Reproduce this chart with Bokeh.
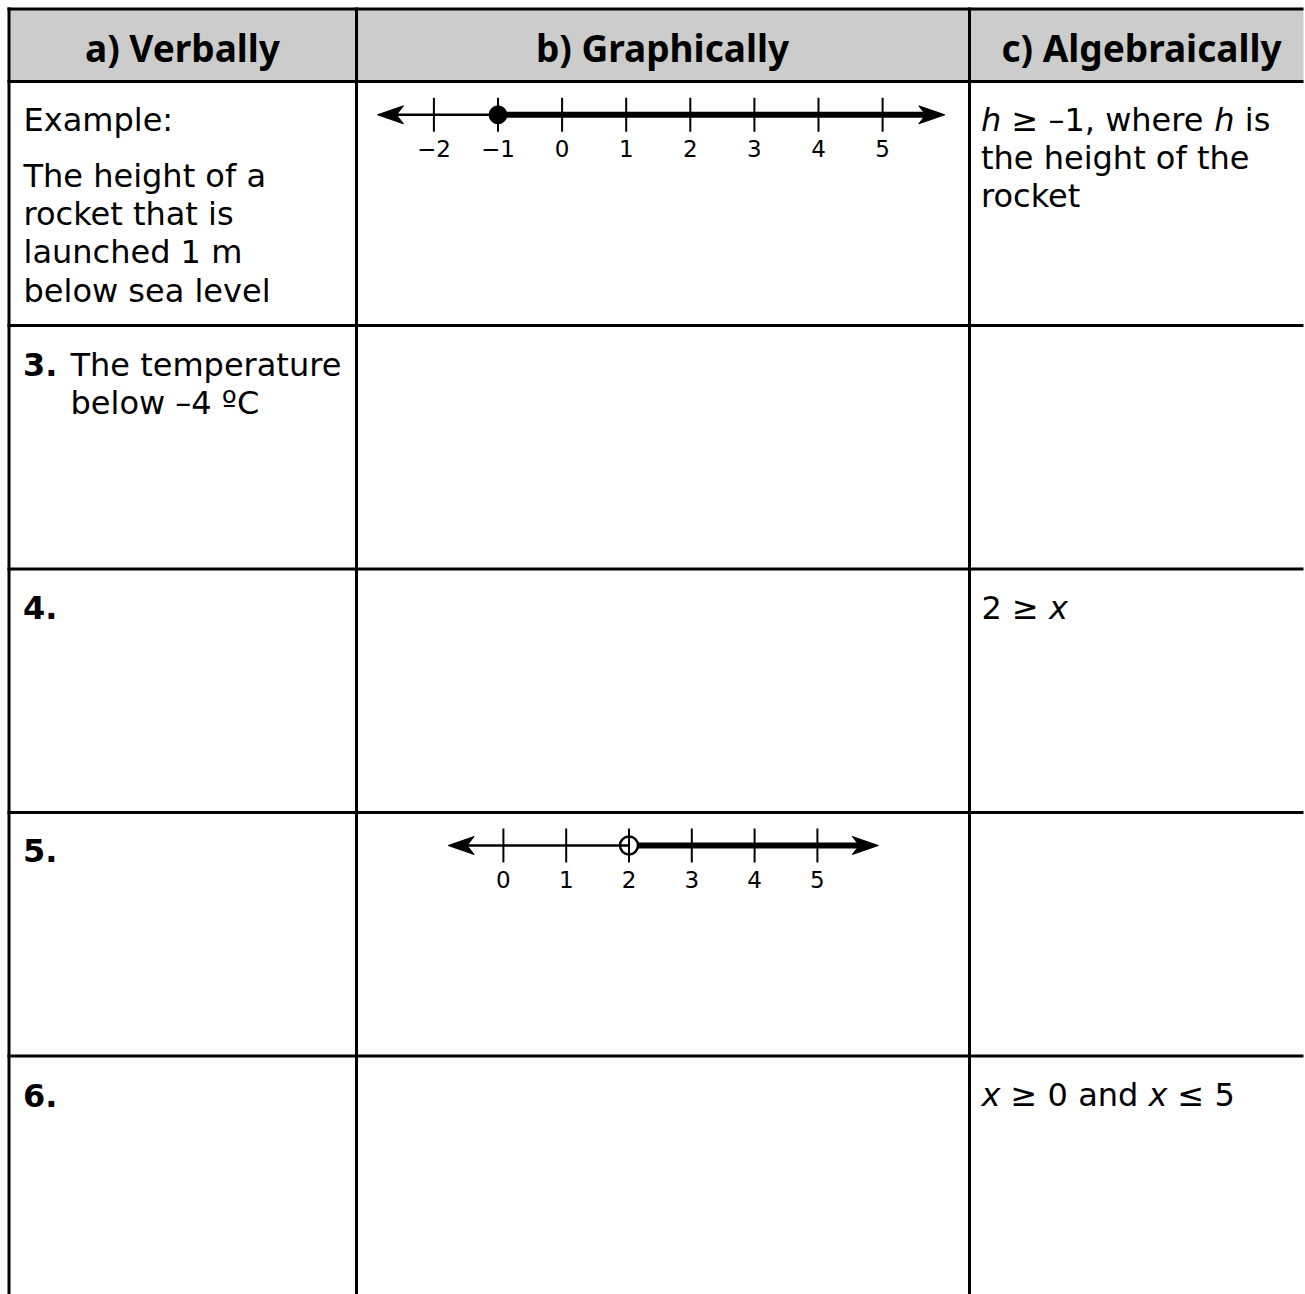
from bokeh.plotting import figure
from bokeh.models import Range1d, ColumnDataSource
from bokeh.core.properties import value
from bokeh.embed import file_html
from bokeh.resources import INLINE

# ---------------- data ----------------
header_labels = ["a) Verbally", "b) Graphically", "c) Algebraically"]
row_numbers = ["3.", "4.", "5.", "6."]
example_verbal_first = ["Example:"]
example_verbal = ["The height of a", "rocket that is", "launched 1 m", "below sea level"]
q3_verbal = ["The temperature", "below \u20134 \u00baC"]
example_algebra_rest = ["the height of the", "rocket"]

# mixed-style algebraic lines: (text, italic)
example_algebra_line1 = [("h", True), ("\u2265 \u20131, where", False), ("h", True), ("is", False)]
q4_algebra = [("2 \u2265", False), ("x", True)]
q6_algebra = [("x", True), ("\u2265 0 and", False), ("x", True), ("\u2264 5", False)]

ex_ticks = [-2, -1, 0, 1, 2, 3, 4, 5]
ex_endpoint = -1          # closed dot, shaded to the right
q5_ticks = [0, 1, 2, 3, 4, 5]
q5_endpoint = 2           # open dot, shaded to the right

# ---------------- layout ----------------
W, H = 1305, 1294
FONT = "DejaVu Sans"
BODY = "32px"
BODY_SHIFT = 10      # baseline correction for body text
HEAD_SHIFT = 15
LABEL_SHIFT = 10.5

p = figure(width=W, height=H, output_backend="svg", toolbar_location=None,
           x_range=Range1d(0, W), y_range=Range1d(H, 0), min_border=0,
           background_fill_color="white", border_fill_color="white")
p.outline_line_color = None
p.xaxis.visible = False
p.yaxis.visible = False
p.xgrid.visible = False
p.ygrid.visible = False

RIGHT = 1303
col_x = [8.5, 356, 969]
row_y = [8.5, 81, 325, 568.5, 812, 1055.5]

# header fill
p.quad(left=[8.5], right=[RIGHT], top=[8.5], bottom=[81], fill_color="#cccccc", line_color=None)

# grid lines
p.segment(x0=col_x, y0=[7]*3, x1=col_x, y1=[H]*3, line_color="black", line_width=3)
p.segment(x0=[7]*len(row_y), y0=row_y, x1=[RIGHT]*len(row_y), y1=row_y, line_color="black", line_width=3)

def txt(xs, ys, texts, size=BODY, font=FONT, style="normal", align="left", shift=BODY_SHIFT):
    src = ColumnDataSource(dict(x=xs, y=[y - shift for y in ys], t=texts))
    p.text(x="x", y="y", text="t", source=src, text_font=value(font), text_font_size=size,
           text_font_style=style, text_align=align, text_baseline="alphabetic", text_color="black")

# header
txt([182, 662, 1141], [62, 62, 62], header_labels, size="37px", font="Noto Sans",
    style="bold", align="center", shift=HEAD_SHIFT)

# left column
txt([23], [129], example_verbal_first)
txt([23]*len(example_verbal), [185, 223.3, 261.7, 300], example_verbal)
txt([22.5]*4, [374, 617, 860, 1104.5], row_numbers, style="bold")
txt([70]*2, [374, 412], q3_verbal)

# right column: segments laid out with DejaVu Sans advance widths (em units)
ADV = {"h": 1298, "x": 1212, " ": 651, "\u2265": 1716, "\u2264": 1716, "\u2013": 1024, "1": 1303,
       ",": 651, "w": 1675, "e": 1260, "r": 842, "2": 1303, "0": 1303, "a": 1255, "n": 1298,
       "d": 1300, "5": 1303, "i": 569, "s": 1067}

def width(t):
    return sum(ADV.get(c, 1250) for c in t) / 2048 * 32

def mixed(segs, x, y):
    for t, it in segs:
        txt([x], [y], [t], style="italic" if it else "normal")
        x += width(t + " ")

mixed(example_algebra_line1, 980.5, 129)
txt([980.5]*2, [167, 205.3], example_algebra_rest)
mixed(q4_algebra, 981, 617)
mixed(q6_algebra, 981, 1104.5)

# number lines
def number_line(ticks, point, closed, origin, unit, y):
    X = lambda v: origin + unit * v
    lo, hi = min(ticks), max(ticks)
    left_tip, right_tip = X(lo - 0.88), X(hi + 0.97)
    alen, hw, notch = 26, 9, 19
    px = X(point)
    r = 9
    # thin part
    p.segment(x0=[left_tip + notch], y0=[y], x1=[px], y1=[y], line_color="black", line_width=2.5)
    # thick part
    start = px if closed else px + r
    p.segment(x0=[start], y0=[y], x1=[right_tip - notch], y1=[y], line_color="black", line_width=6)
    # arrow heads
    p.patches(xs=[[left_tip, left_tip + alen, left_tip + notch, left_tip + alen],
                  [right_tip, right_tip - alen, right_tip - notch, right_tip - alen]],
              ys=[[y, y - hw, y, y + hw], [y, y - hw, y, y + hw]],
              fill_color="black", line_color="black", line_width=1)
    # ticks
    tx = [X(v) for v in ticks]
    p.segment(x0=tx, y0=[y - 17] * len(tx), x1=tx, y1=[y + 17] * len(tx), line_color="black", line_width=2)
    # labels
    labels = [("\u2212%d" % -v) if v < 0 else str(v) for v in ticks]
    txt(tx, [y + 44] * len(tx), labels, size="23px", align="center", shift=LABEL_SHIFT)
    # endpoint
    if closed:
        p.scatter(x=[px], y=[y], marker="circle", size=2 * r, fill_color="black", line_color="black")
    else:
        p.scatter(x=[px], y=[y], marker="circle", size=2 * r, fill_alpha=0,
                  line_color="black", line_width=2.5)

number_line(ex_ticks, ex_endpoint, True, 561.6, 64.1, 114.3)
number_line(q5_ticks, q5_endpoint, False, 502.9, 62.8, 845)

open("out.html", "w").write(file_html(p, INLINE))
